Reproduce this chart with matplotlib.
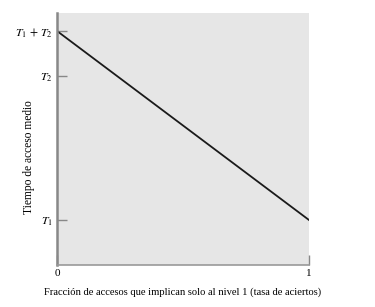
import matplotlib
matplotlib.use("Agg")
import matplotlib.pyplot as plt

plt.rcParams['font.family'] = ['Liberation Serif', 'DejaVu Serif']
plt.rcParams['mathtext.fontset'] = 'stix'

# Data
x_vals = [0, 1]
t1 = 1.0
t2 = 4.2
y_vals = [t1 + t2, t1]
ytick_vals = [t1, t2, t1 + t2]
ytick_labels = [r'$T_1$', r'$T_2$', r'$T_1\,+\,T_2$']
xtick_vals = [0, 1]
xtick_labels = ['0', '1']
xlabel = 'Fracción de accesos que implican solo al nivel 1 (tasa de aciertos)'
ylabel = 'Tiempo de acceso medio'

fig = plt.figure(figsize=(3.75, 3.07), dpi=100)
ax = fig.add_axes([57/375, 42/307, 252/375, 252/307])
ax.set_facecolor('#e6e6e6')
ax.plot(x_vals, y_vals, color='#1a1a1a', lw=1.3)
ax.set_xlim(0, 1)
ax.set_ylim(0, 5.6)
ax.set_yticks(ytick_vals)
ax.set_yticklabels(ytick_labels, fontsize=8.5)
ax.set_xticks(xtick_vals)
ax.set_xticklabels(xtick_labels, fontsize=8)
ax.tick_params(axis='y', direction='in', length=7, width=1, color='#888888', pad=3)
ax.tick_params(axis='x', direction='in', length=7, width=1, color='#888888', pad=3)
for s in ['top', 'right']:
    ax.spines[s].set_visible(False)
ax.spines['left'].set_color('#888888')
ax.spines['left'].set_linewidth(1.8)
ax.spines['bottom'].set_color('#999999')
ax.spines['bottom'].set_linewidth(1.2)
ax.set_xlabel(xlabel, fontsize=7.6)
ax.xaxis.set_label_coords(0.497, -0.09)
ax.set_ylabel(ylabel, fontsize=8.3)
ax.yaxis.set_label_coords(-0.088, 0.43)
fig.savefig('out.png', dpi=100)
